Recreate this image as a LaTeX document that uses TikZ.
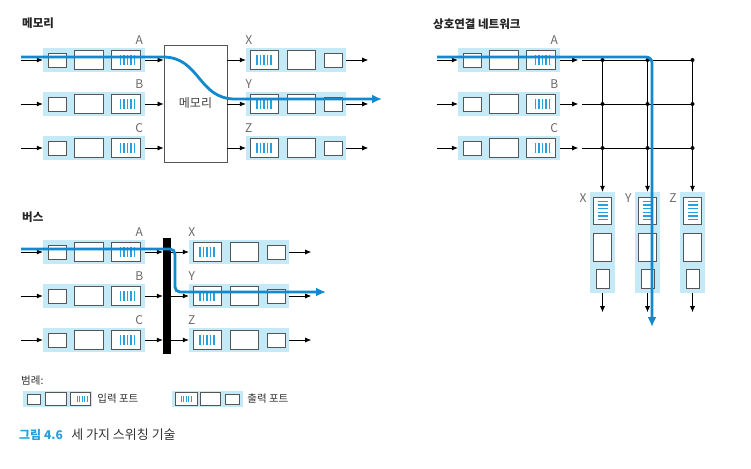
\documentclass[tikz,border=0pt]{standalone}
\usepackage{fontspec}
\newfontfamily\kr{Noto Sans CJK KR}
\usetikzlibrary{arrows.meta}

\definecolor{bandblue}{RGB}{196,234,248}
\definecolor{flowblue}{RGB}{18,136,206}
\definecolor{qblue}{RGB}{38,160,222}
\definecolor{boxgray}{RGB}{85,85,85}
\definecolor{lblgray}{RGB}{105,105,105}

% input port: name, left x, center y
\newcommand{\inport}[3]{%
  \node[band, minimum width=102pt] (#1) at ({#2+51},#3) {};
  \node[pbox, minimum width=18pt, minimum height=14pt] (#1-s) at ({#2+14},#3) {};
  \node[pbox, minimum width=29pt, minimum height=19pt] (#1-m) at ({#2+45.5},#3) {};
  \node[pbox, minimum width=29pt, minimum height=19pt] (#1-q) at ({#2+82.5},#3) {};
  \foreach \d in {-5,-1.5,...,9} \draw[qline] ([xshift=\d pt, yshift=-5pt]#1-q.center) -- ++(0,-10);
}
% output port: name, left x, center y
\newcommand{\outport}[3]{%
  \node[band, minimum width=100pt] (#1) at ({#2+50},#3) {};
  \node[pbox, minimum width=28pt, minimum height=19pt] (#1-q) at ({#2+18},#3) {};
  \node[pbox, minimum width=28pt, minimum height=19pt] (#1-m) at ({#2+55},#3) {};
  \node[pbox, minimum width=18pt, minimum height=14pt] (#1-s) at ({#2+87},#3) {};
  \foreach \d in {-7,-3.5,...,7} \draw[qline] ([xshift=\d pt, yshift=-5pt]#1-q.center) -- ++(0,-10);
}
% vertical output port: name, center x, top y
\newcommand{\vport}[3]{%
  \node[band, minimum width=25pt, minimum height=101pt] (#1) at (#2,{#3+50.5}) {};
  \node[pbox, minimum width=18pt, minimum height=27pt] (#1-q) at (#2,{#3+18.5}) {};
  \node[pbox, minimum width=18pt, minimum height=28pt] (#1-m) at (#2,{#3+55}) {};
  \node[pbox, minimum width=13pt, minimum height=19pt] (#1-s) at (#2,{#3+86.5}) {};
  \foreach \d in {0,...,5} \draw[qline] ([xshift=-5pt, yshift={9pt-\d*3.6pt}]#1-q.center) -- ++(10,0);
}

\begin{document}
\begin{tikzpicture}[x=1pt, y=-1pt,
  band/.style={fill=bandblue, inner sep=0pt, minimum height=24pt},
  pbox/.style={draw=boxgray, fill=white, line width=0.8pt, inner sep=0pt},
  qline/.style={qblue, line width=1.3pt},
  link/.style={line width=0.7pt, -{Latex[length=6pt, width=5pt]}},
  grid/.style={line width=0.8pt},
  flow/.style={flowblue, line width=2.8pt, -{Latex[length=10pt, width=9pt]}},
  lbl/.style={text=lblgray, inner sep=1pt, font=\kr\fontsize{12}{14}\selectfont},
  title/.style={text=black!85, inner sep=0pt, font=\kr\bfseries\fontsize{11.5}{13}\selectfont},
  txt/.style={text=black!80, inner sep=0pt, font=\kr\fontsize{10.5}{12}\selectfont}]
\useasboundingbox (0,0) rectangle (751,468);

% ---- memory
\node[title, anchor=west] (t-mem) at (22,23) {메모리};
\node[pbox, minimum width=63pt, minimum height=117pt, text=black!75, font=\kr\fontsize{12}{14}\selectfont] (mem) at (195.5,103.5) {메모리};
\foreach \r/\y in {A/60,B/104,C/148} {
  \inport{m\r}{43}{\y}
  \node[lbl, anchor=south] (m\r-l) at ([xshift=-6pt, yshift=2pt]m\r.north east) {\r};
  \draw[link] ([xshift=-22pt]m\r.west) -- (m\r.west);
  \draw[link] (m\r.east) -- (mem.west |- m\r.east);
}
\foreach \r/\y in {X/60,Y/104,Z/148} {
  \outport{m\r}{246}{\y}
  \node[lbl, anchor=south] (m\r-l) at ([xshift=3pt, yshift=2pt]m\r.north west) {\r};
  \draw[link] (mem.east |- m\r.west) -- (m\r.west);
  \draw[link] (m\r.east) -- ([xshift=22pt]m\r.east);
}
\draw[flow] (21,57) -- (163,57) .. controls (200,57) and (198,99) .. (235,99) -- (382,99);

% ---- bus
\node[title, anchor=west] (t-bus) at (22,217) {버스};
\node[fill=black, inner sep=0pt, minimum width=8pt, minimum height=116pt] (bus) at (167,296) {};
\foreach \r/\y in {A/252,B/296,C/340} {
  \inport{b\r}{43}{\y}
  \node[lbl, anchor=south] (b\r-l) at ([xshift=-6pt, yshift=2pt]b\r.north east) {\r};
  \draw[link] ([xshift=-22pt]b\r.west) -- (b\r.west);
  \draw[link] (b\r.east) -- (bus.west |- b\r.east);
}
\foreach \r/\y in {X/252,Y/296,Z/340} {
  \outport{b\r}{189}{\y}
  \node[lbl, anchor=south] (b\r-l) at ([xshift=3pt, yshift=2pt]b\r.north west) {\r};
  \draw[link] (bus.east |- b\r.west) -- (b\r.west);
  \draw[link] (b\r.east) -- ([xshift=22pt]b\r.east);
}
\draw[flow, rounded corners=5pt] (21,249) -- (175,249) -- (175,292) -- (326,292);

% ---- interconnection network
\node[title, anchor=west] (t-net) at (433,24) {상호연결 네트워크};
\foreach \c/\x in {X/602.5,Y/647.5,Z/692.5} {
  \vport{x\c}{\x}{192}
  \node[lbl, anchor=east] (x\c-l) at ([xshift=-2pt, yshift=-6pt]x\c.north west) {\c};
  \draw[link] (x\c.south) -- ++(0,19);
}
\foreach \r/\y in {A/60,B/104,C/148} {
  \inport{x\r}{458}{\y}
  \node[lbl, anchor=south] (x\r-l) at ([xshift=-6pt, yshift=2pt]x\r.north east) {\r};
  \draw[link] ([xshift=-21pt]x\r.west) -- (x\r.west);
  \draw[link] (x\r.east) -- ([xshift=18pt]x\r.east);
  \draw[grid] ([xshift=22pt]x\r.east) -- (x\r.east -| xZ.north);
}
\foreach \c in {X,Y,Z} {
  \draw[link] (xA.east -| x\c.north) -- (x\c.north);
  \foreach \r in {A,B,C} \fill (x\r.east -| x\c.north) circle (2pt);
}
\draw[flow, rounded corners=6pt] (437,57) -- (652,57) -- (652,327);

% ---- legend
\node[txt, anchor=west] (leg) at (21,381) {범례:};
\node[band, minimum width=69pt, minimum height=16pt] (lgin) at (57.5,399) {};
\node[pbox, minimum width=13pt, minimum height=10pt] (lgin-s) at (33.5,399) {};
\node[pbox, minimum width=21pt, minimum height=13pt] (lgin-m) at (55.5,399) {};
\node[pbox, minimum width=20pt, minimum height=13pt] (lgin-q) at (80,399) {};
\foreach \d in {-3,-0.5,...,7} \draw[qblue, line width=0.9pt] ([xshift=\d pt, yshift=-3pt]lgin-q.center) -- ++(0,-6);
\node[txt, anchor=west] (lgin-t) at ([xshift=5pt]lgin.east) {입력 포트};
\node[band, minimum width=71pt, minimum height=16pt] (lgout) at (207.5,399) {};
\node[pbox, minimum width=22pt, minimum height=13pt] (lgout-q) at (186,399) {};
\node[pbox, minimum width=20pt, minimum height=13pt] (lgout-m) at (210,399) {};
\node[pbox, minimum width=14pt, minimum height=10pt] (lgout-s) at (232,399) {};
\foreach \d in {-5,-2.5,...,5} \draw[qblue, line width=0.9pt] ([xshift=\d pt, yshift=-3pt]lgout-q.center) -- ++(0,-6);
\node[txt, anchor=west] (lgout-t) at ([xshift=4pt]lgout.east) {출력 포트};

% ---- caption
\node[anchor=west, inner sep=0pt, text=qblue, font=\kr\bfseries\fontsize{12}{14}\selectfont] (cap) at (19,435) {그림 4.6};
\node[anchor=west, inner sep=0pt, text=black!80, font=\kr\fontsize{13}{15}\selectfont] (cap-t) at ([xshift=8pt]cap.east) {세 가지 스위칭 기술};
\end{tikzpicture}
\end{document}
